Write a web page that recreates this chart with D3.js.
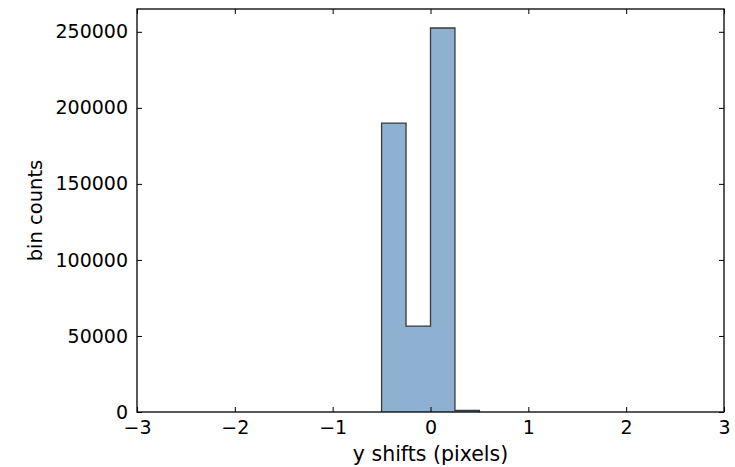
<!DOCTYPE html>
<html>
<head>
<meta charset="utf-8">
<script src="https://cdn.jsdelivr.net/npm/d3@7"></script>
<style>
  body { margin: 0; background: #fff; }
  text { font-family: "DejaVu Sans", sans-serif; fill: #000; }
</style>
</head>
<body>
<div id="chart"></div>
<script>
const width = 735;
const height = 467;
const margin = {top: 9, right: 11, bottom: 55, left: 137}

// histogram bins (left edge, right edge) and counts
const binStarts = [-0.5, -0.25, 0, 0.25]
const binEnds = [-0.25, 0, 0.25, 0.5]
const binCounts = [190000, 56500, 252500, 1000]
const xTicks = [-3, -2, -1, 0, 1, 2, 3]
const yTicks = [0, 50000, 100000, 150000, 200000, 250000]

const svg = d3.select("#chart")
  .append("svg")
  .attr("width", width)
  .attr("height", height)

var x = d3.scaleLinear()
  .domain([-3, 3])
  .range([margin.left, width - margin.right])

var y = d3.scaleLinear()
  .domain([0, 265000])
  .range([height - margin.bottom, margin.top])

// stepfilled histogram outline: one closed path over all bins
const steps = [[binStarts[0], 0]]
binCounts.forEach(function(c, i) {
  steps.push([binStarts[i], c])
  steps.push([binEnds[i], c])
})
steps.push([binEnds[binEnds.length - 1], 0])

svg.append("path")
  .datum(steps)
  .attr("d", d3.line()
    .x(d => x(d[0]))
    .y(d => y(d[1])))
  .style("fill", "#8eb1d2")
  .style("stroke", "#3a3a3a")
  .style("stroke-width", 1.3)
  .style("stroke-linejoin", "miter")

// axes, ticks pointing inward like matplotlib classic
const fmtMinus = d => d < 0 ? "\u2212" + Math.abs(d) : String(d)

const xBottom = svg.append("g")
  .attr("transform", `translate(0,${y(0)})`)
  .call(d3.axisBottom(x).tickValues(xTicks).tickSizeInner(-5).tickSizeOuter(0).tickPadding(9).tickFormat(fmtMinus))
const xTop = svg.append("g")
  .attr("transform", `translate(0,${margin.top})`)
  .call(d3.axisTop(x).tickValues(xTicks).tickSizeInner(-5).tickSizeOuter(0).tickFormat(""))
const yLeft = svg.append("g")
  .attr("transform", `translate(${margin.left},0)`)
  .call(d3.axisLeft(y).tickValues(yTicks).tickSizeInner(-5).tickSizeOuter(0).tickPadding(9).tickFormat(d3.format("d")))
const yRight = svg.append("g")
  .attr("transform", `translate(${width - margin.right},0)`)
  .call(d3.axisRight(y).tickValues(yTicks).tickSizeInner(-5).tickSizeOuter(0).tickFormat(""))

for (const g of [xBottom, xTop, yLeft, yRight]) {
  g.select(".domain").remove()
  g.selectAll("line").style("stroke", "#000").style("stroke-width", 1)
  g.selectAll("text").style("font-size", "19px").style("font-family", "DejaVu Sans")
}

// frame
svg.append("rect")
  .attr("x", margin.left)
  .attr("y", margin.top)
  .attr("width", width - margin.right - margin.left)
  .attr("height", y(0) - margin.top)
  .style("fill", "none")
  .style("stroke", "#000")
  .style("stroke-width", 1.3)

svg.append("text")
  .attr("x", (margin.left + width - margin.right) / 2)
  .attr("y", 461)
  .attr("text-anchor", "middle")
  .style("font-size", "20.5px")
  .text("y shifts (pixels)")

svg.append("text")
  .attr("transform", `translate(42,${(margin.top + y(0)) / 2}) rotate(-90)`)
  .attr("text-anchor", "middle")
  .style("font-size", "19.5px")
  .text("bin counts")
</script>
</body>
</html>
